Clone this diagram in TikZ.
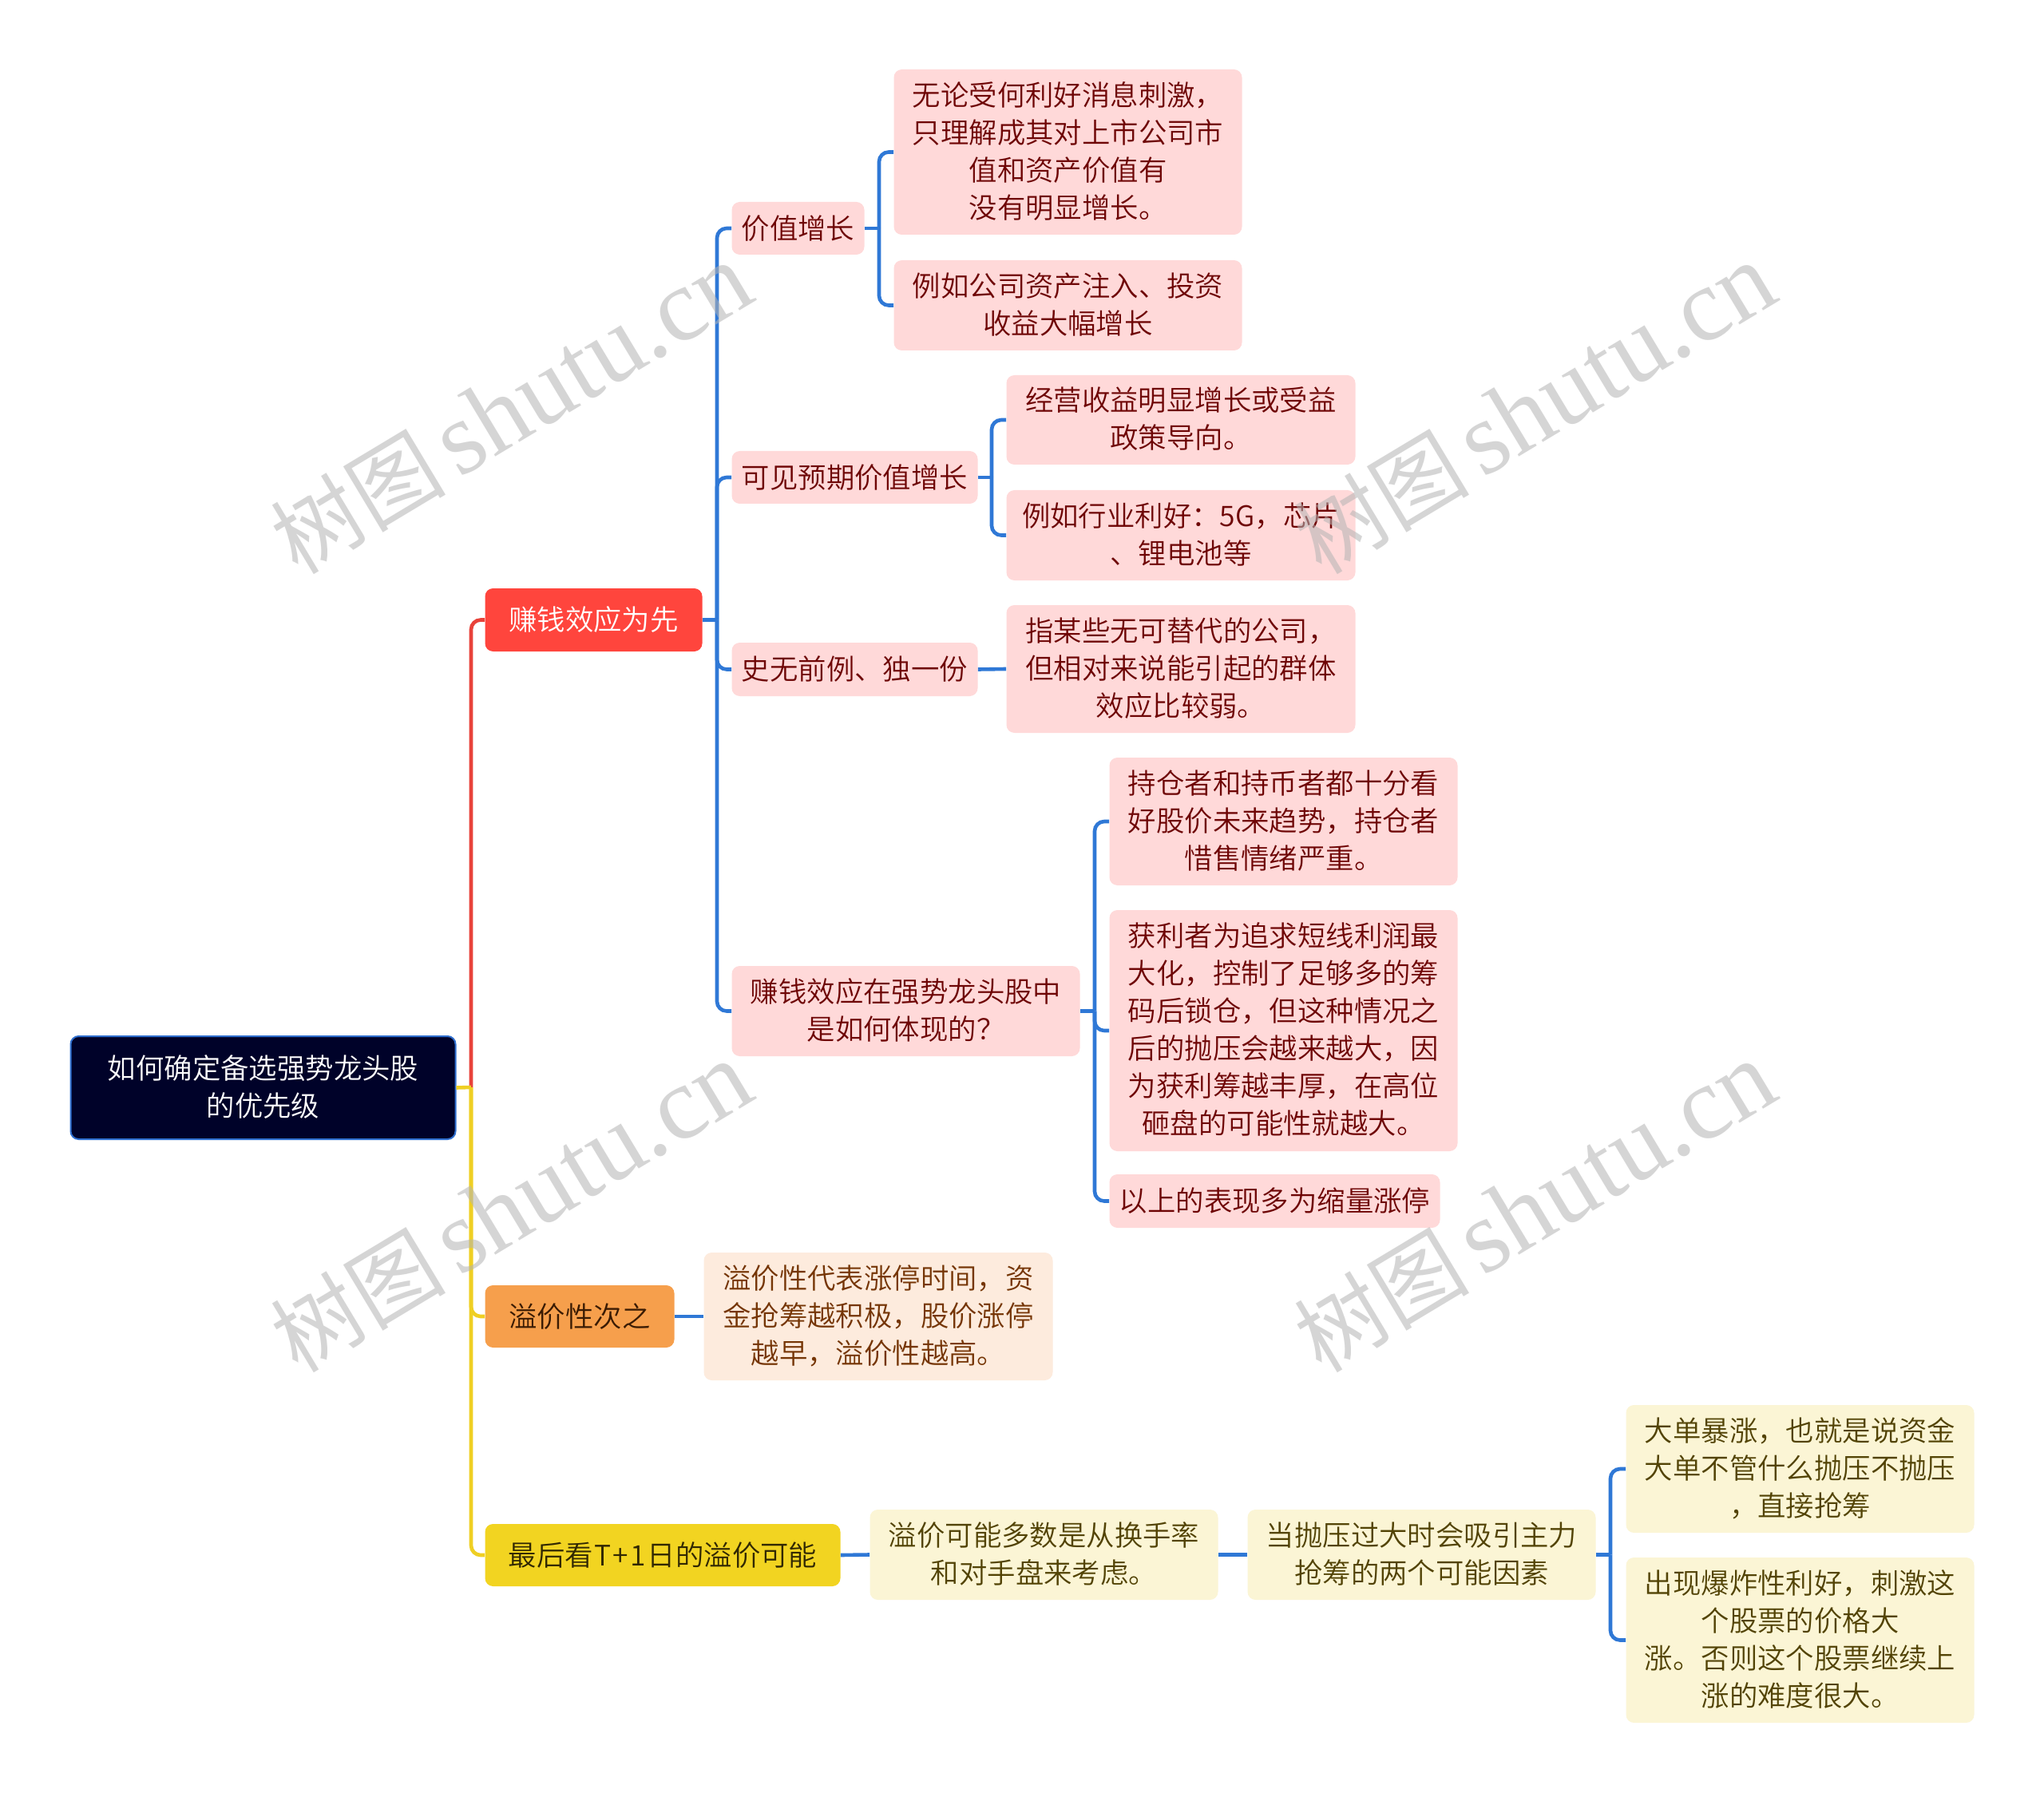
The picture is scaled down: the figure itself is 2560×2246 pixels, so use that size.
\documentclass[tikz,border=0pt]{standalone}
\usepackage{fontspec}
\setmainfont{Noto Sans CJK SC DemiLight}
\newfontfamily\wmcjk{Noto Sans CJK SC}
\newfontfamily\wmlat{Liberation Serif}
\definecolor{rootbg}{HTML}{000229}
\definecolor{rootbd}{HTML}{2F6FCF}
\definecolor{redbg}{HTML}{FF453D}
\definecolor{orgbg}{HTML}{F69F4C}
\definecolor{yelbg}{HTML}{F2D421}
\definecolor{pinkbg}{HTML}{FFD9D9}
\definecolor{peachbg}{HTML}{FDEBDD}
\definecolor{creambg}{HTML}{FBF5D5}
\definecolor{pinktx}{HTML}{6E0505}
\definecolor{peachtx}{HTML}{753505}
\definecolor{creamtx}{HTML}{524305}
\definecolor{linered}{HTML}{E8423A}
\definecolor{lineyel}{HTML}{EFCF23}
\definecolor{lineblue}{HTML}{2F78D6}
\definecolor{wmgray}{HTML}{B4B4B4}
\tikzset{
  box/.style={rectangle,rounded corners=5pt,inner sep=0pt,align=center,font=\fontsize{17.7}{23.5}\selectfont,
    execute at begin node={\rule{0pt}{15.8pt}},
    execute at end node={\rule[-2.6pt]{0pt}{2.6pt}}},
  rootbox/.style={box,fill=rootbg,draw=rootbd,line width=1pt,text=white},
  redbox/.style={box,fill=redbg,text=white},
  orgbox/.style={box,fill=orgbg,text=peachtx!50!black},
  yelbox/.style={box,fill=yelbg,text=creamtx!60!black},
  pinkbox/.style={box,fill=pinkbg,text=pinktx},
  peachbox/.style={box,fill=peachbg,text=peachtx},
  creambox/.style={box,fill=creambg,text=creamtx},
  conn/.style={line width=2.3pt,rounded corners=6pt},
  blueconn/.style={conn,draw=lineblue},
  watermark/.style={text=wmgray,opacity=.55,rotate=31,inner sep=0pt}
}
% name, x1, y1, x2, y2, style, text
\newcommand{\bx}[7]{%
  \pgfmathsetmacro{\bw}{(#4-#2+1)*0.5}%
  \pgfmathsetmacro{\bh}{(#5-#3)*0.5}%
  \node[#6,minimum width=\bw pt,minimum height=\bh pt] (#1) at ({(#2+#4)/2},{(#3+#5)/2}) {#7};%
}
\newcommand{\wmtext}{{\fontsize{55}{60}\selectfont\wmcjk 树图}\hspace{8pt}{\fontsize{65}{65}\selectfont\wmlat shutu.cn}}
\begin{document}
\begin{tikzpicture}[x=0.5pt,y=-0.5pt]
\useasboundingbox (0,0) rectangle (2560,2246);
\fill[white] (0,0) rectangle (2560,2246);
\bx{root}{89}{1298}{570}{1427}{rootbox}{如何确定备选强势龙头股\\的优先级}
\bx{red}{608}{737}{879}{816}{redbox}{赚钱效应为先}
\bx{org}{608}{1610}{844}{1688}{orgbox}{溢价性次之}
\bx{yel}{608}{1909}{1052}{1987}{yelbox}{最后看\kern1pt T\kern1pt+\kern1pt 1\kern1pt 日的溢价可能}
\bx{jz}{917}{253}{1082}{319}{pinkbox}{价值增长}
\bx{jza}{1120}{87}{1555}{294}{pinkbox}{无论受何利好消息刺激，\\只理解成其对上市公司市\\值和资产价值有\\没有明显增长。}
\bx{jzb}{1120}{326}{1555}{439}{pinkbox}{例如公司资产注入、投资\\收益大幅增长}
\bx{kj}{917}{565}{1224}{631}{pinkbox}{可见预期价值增长}
\bx{kja}{1261}{470}{1697}{582}{pinkbox}{经营收益明显增长或受益\\政策导向。}
\bx{kjb}{1261}{614}{1697}{727}{pinkbox}{例如行业利好：5G，芯片\\、锂电池等}
\bx{sw}{917}{805}{1224}{872}{pinkbox}{史无前例、独一份}
\bx{swa}{1261}{758}{1697}{918}{pinkbox}{指某些无可替代的公司，\\但相对来说能引起的群体\\效应比较弱。}
\bx{zq}{917}{1210}{1352}{1323}{pinkbox}{赚钱效应在强势龙头股中\\是如何体现的？}
\bx{zqa}{1390}{949}{1825}{1109}{pinkbox}{持仓者和持币者都十分看\\好股价未来趋势，持仓者\\惜售情绪严重。}
\bx{zqb}{1390}{1140}{1825}{1442}{pinkbox}{获利者为追求短线利润最\\大化，控制了足够多的筹\\码后锁仓，但这种情况之\\后的抛压会越来越大，因\\为获利筹越丰厚，在高位\\砸盘的可能性就越大。}
\bx{zqc}{1390}{1471}{1803}{1538}{pinkbox}{以上的表现多为缩量涨停}
\bx{yj}{882}{1569}{1318}{1729}{peachbox}{溢价性代表涨停时间，资\\金抢筹越积极，股价涨停\\越早，溢价性越高。}
\bx{ky}{1090}{1891}{1525}{2004}{creambox}{溢价可能多数是从换手率\\和对手盘来考虑。}
\bx{pb}{1563}{1891}{1998}{2004}{creambox}{当抛压过大时会吸引主力\\抢筹的两个可能因素}
\bx{pba}{2037}{1760}{2472}{1920}{creambox}{大单暴涨，也就是说资金\\大单不管什么抛压不抛压\\，直接抢筹}
\bx{pbb}{2037}{1951}{2472}{2158}{creambox}{出现爆炸性利好，刺激这\\个股票的价格大\\涨。否则这个股票继续上\\涨的难度很大。}
% junction points
\coordinate (jroot) at (590,1362);
\coordinate (jred) at (898,776.5);
\coordinate (jjz) at (1101,286);
\coordinate (jkj) at (1242,598);
\coordinate (jzq) at (1371,1266.5);
\coordinate (jpb) at (2017,1947.5);
% main branches
\draw[conn,draw=linered] (jroot) |- (red.west);
\draw[conn,draw=lineyel] (jroot) |- (org.west);
\draw[conn,draw=lineyel] (jroot) |- (yel.west);
\draw[conn,draw=lineyel] (root.east) -- (jroot);
% blue branches
\draw[blueconn] (red.east) -- (jred);
\draw[blueconn] (jred) |- (jz.west);
\draw[blueconn] (jred) |- (kj.west);
\draw[blueconn] (jred) |- (sw.west);
\draw[blueconn] (jred) |- (zq.west);
\draw[blueconn] (jz.east) -- (jjz);
\draw[blueconn] (jjz) |- (jza.west);
\draw[blueconn] (jjz) |- (jzb.west);
\draw[blueconn] (kj.east) -- (jkj);
\draw[blueconn] (jkj) |- (kja.west);
\draw[blueconn] (jkj) |- (kjb.west);
\draw[blueconn] (sw.east) -- (swa.west);
\draw[blueconn] (zq.east) -- (jzq);
\draw[blueconn] (jzq) |- (zqa.west);
\draw[blueconn] (jzq) |- (zqb.west);
\draw[blueconn] (jzq) |- (zqc.west);
\draw[blueconn] (org.east) -- (yj.west);
\draw[blueconn] (yel.east) -- (ky.west);
\draw[blueconn] (ky.east) -- (pb.west);
\draw[blueconn] (pb.east) -- (jpb);
\draw[blueconn] (jpb) |- (pba.west);
\draw[blueconn] (jpb) |- (pbb.west);
% watermarks
\node[watermark] (wa) at (640,512) {\wmtext};
\node[watermark] (wb) at (1922,512) {\wmtext};
\node[watermark] (wc) at (640,1512) {\wmtext};
\node[watermark] (wd) at (1922,1512) {\wmtext};
\end{tikzpicture}
\end{document}
